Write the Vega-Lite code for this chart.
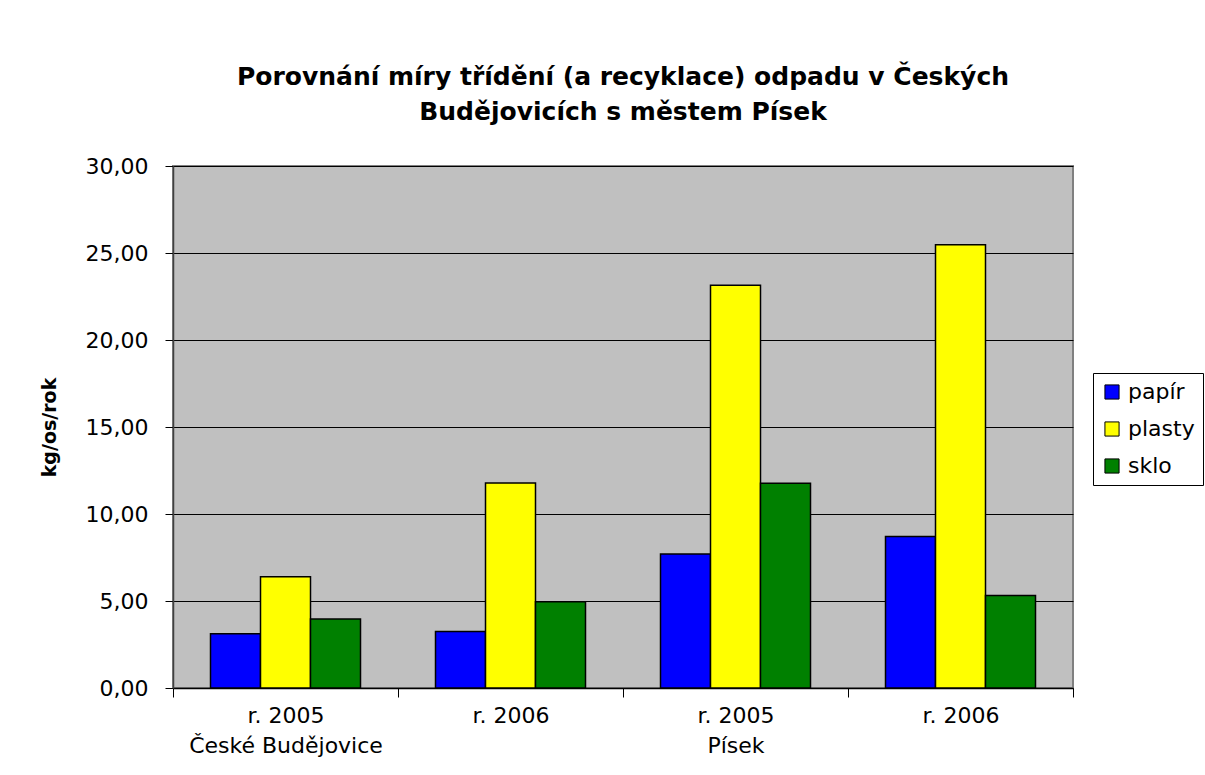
{
  "$schema": "https://vega.github.io/schema/vega-lite/v6.json",
  "width": 900,
  "height": 522,
  "autosize": {"type": "none"},
  "padding": {"left": 173, "top": 166, "right": 132, "bottom": 87},
  "background": "white",
  "title": {
    "text": ["Porovnání míry třídění (a recyklace) odpadu v Českých", "Budějovicích s městem Písek"],
    "font": "DejaVu Sans",
    "fontSize": 25,
    "fontWeight": "bold",
    "color": "black",
    "anchor": "middle",
    "lineHeight": 35,
    "offset": 30
  },
  "data": {
    "values": [
      {"kategorie": "CB2005", "druh": "papír", "hodnota": 3.12},
      {"kategorie": "CB2005", "druh": "plasty", "hodnota": 6.40},
      {"kategorie": "CB2005", "druh": "sklo", "hodnota": 3.97},
      {"kategorie": "CB2006", "druh": "papír", "hodnota": 3.24},
      {"kategorie": "CB2006", "druh": "plasty", "hodnota": 11.78},
      {"kategorie": "CB2006", "druh": "sklo", "hodnota": 4.95},
      {"kategorie": "P2005", "druh": "papír", "hodnota": 7.70},
      {"kategorie": "P2005", "druh": "plasty", "hodnota": 23.15},
      {"kategorie": "P2005", "druh": "sklo", "hodnota": 11.77},
      {"kategorie": "P2006", "druh": "papír", "hodnota": 8.70},
      {"kategorie": "P2006", "druh": "plasty", "hodnota": 25.48},
      {"kategorie": "P2006", "druh": "sklo", "hodnota": 5.32}
    ]
  },
  "mark": {"type": "bar", "stroke": "black", "strokeWidth": 1.5},
  "encoding": {
    "x": {
      "field": "kategorie",
      "type": "nominal",
      "sort": ["CB2005", "CB2006", "P2005", "P2006"],
      "scale": {"paddingInner": 0, "paddingOuter": 0},
      "axis": {
        "title": null,
        "labelAngle": 0,
        "labelFont": "DejaVu Sans",
        "labelFontSize": 22,
        "labelColor": "black",
        "labelLineHeight": 30,
        "labelPadding": 8,
        "labelLimit": 400,
        "labelOverlap": false,
        "labelExpr": "datum.value == 'CB2005' ? ['r. 2005', 'České Budějovice'] : datum.value == 'CB2006' ? ['r. 2006', ''] : datum.value == 'P2005' ? ['r. 2005', 'Písek'] : datum.value == 'P2006' ? ['r. 2006', ''] : ''",
        "tickBand": "extent",
        "tickSize": 9,
        "tickColor": "black",
        "domainColor": "black",
        "domainWidth": 1.5,
        "grid": false
      }
    },
    "xOffset": {
      "field": "druh",
      "sort": ["papír", "plasty", "sklo"],
      "scale": {"paddingInner": 0, "paddingOuter": 0.75}
    },
    "y": {
      "field": "hodnota",
      "type": "quantitative",
      "scale": {"domain": [0, 30]},
      "axis": {
        "title": "kg/os/rok",
        "titleFont": "DejaVu Sans",
        "titleFontSize": 19,
        "titleFontWeight": "bold",
        "titleColor": "black",
        "titlePadding": 26,
        "values": [0, 5, 10, 15, 20, 25, 30],
        "labelExpr": "replace(format(datum.value, '.2f'), '.', ',')",
        "labelFont": "DejaVu Sans",
        "labelFontSize": 22,
        "labelColor": "black",
        "labelPadding": 17,
        "tickSize": 8,
        "tickColor": "black",
        "domainColor": "#404040",
        "domainWidth": 1.5,
        "grid": true,
        "gridColor": "black",
        "gridWidth": 1
      }
    },
    "color": {
      "field": "druh",
      "type": "nominal",
      "sort": ["papír", "plasty", "sklo"],
      "scale": {"domain": ["papír", "plasty", "sklo"], "range": ["#0000FF", "#FFFF00", "#008000"]},
      "legend": {
        "title": null,
        "orient": "none",
        "legendX": 920,
        "legendY": 207,
        "symbolType": "square",
        "symbolSize": 200,
        "symbolStrokeColor": "black",
        "symbolStrokeWidth": 1,
        "labelFont": "DejaVu Sans",
        "labelFontSize": 22,
        "labelColor": "black",
        "labelOffset": 5,
        "rowPadding": 15,
        "padding": 8,
        "strokeColor": "black",
        "fillColor": "white"
      }
    }
  },
  "config": {
    "view": {"fill": "#C0C0C0", "stroke": "#808080", "strokeWidth": 2}
  }
}
